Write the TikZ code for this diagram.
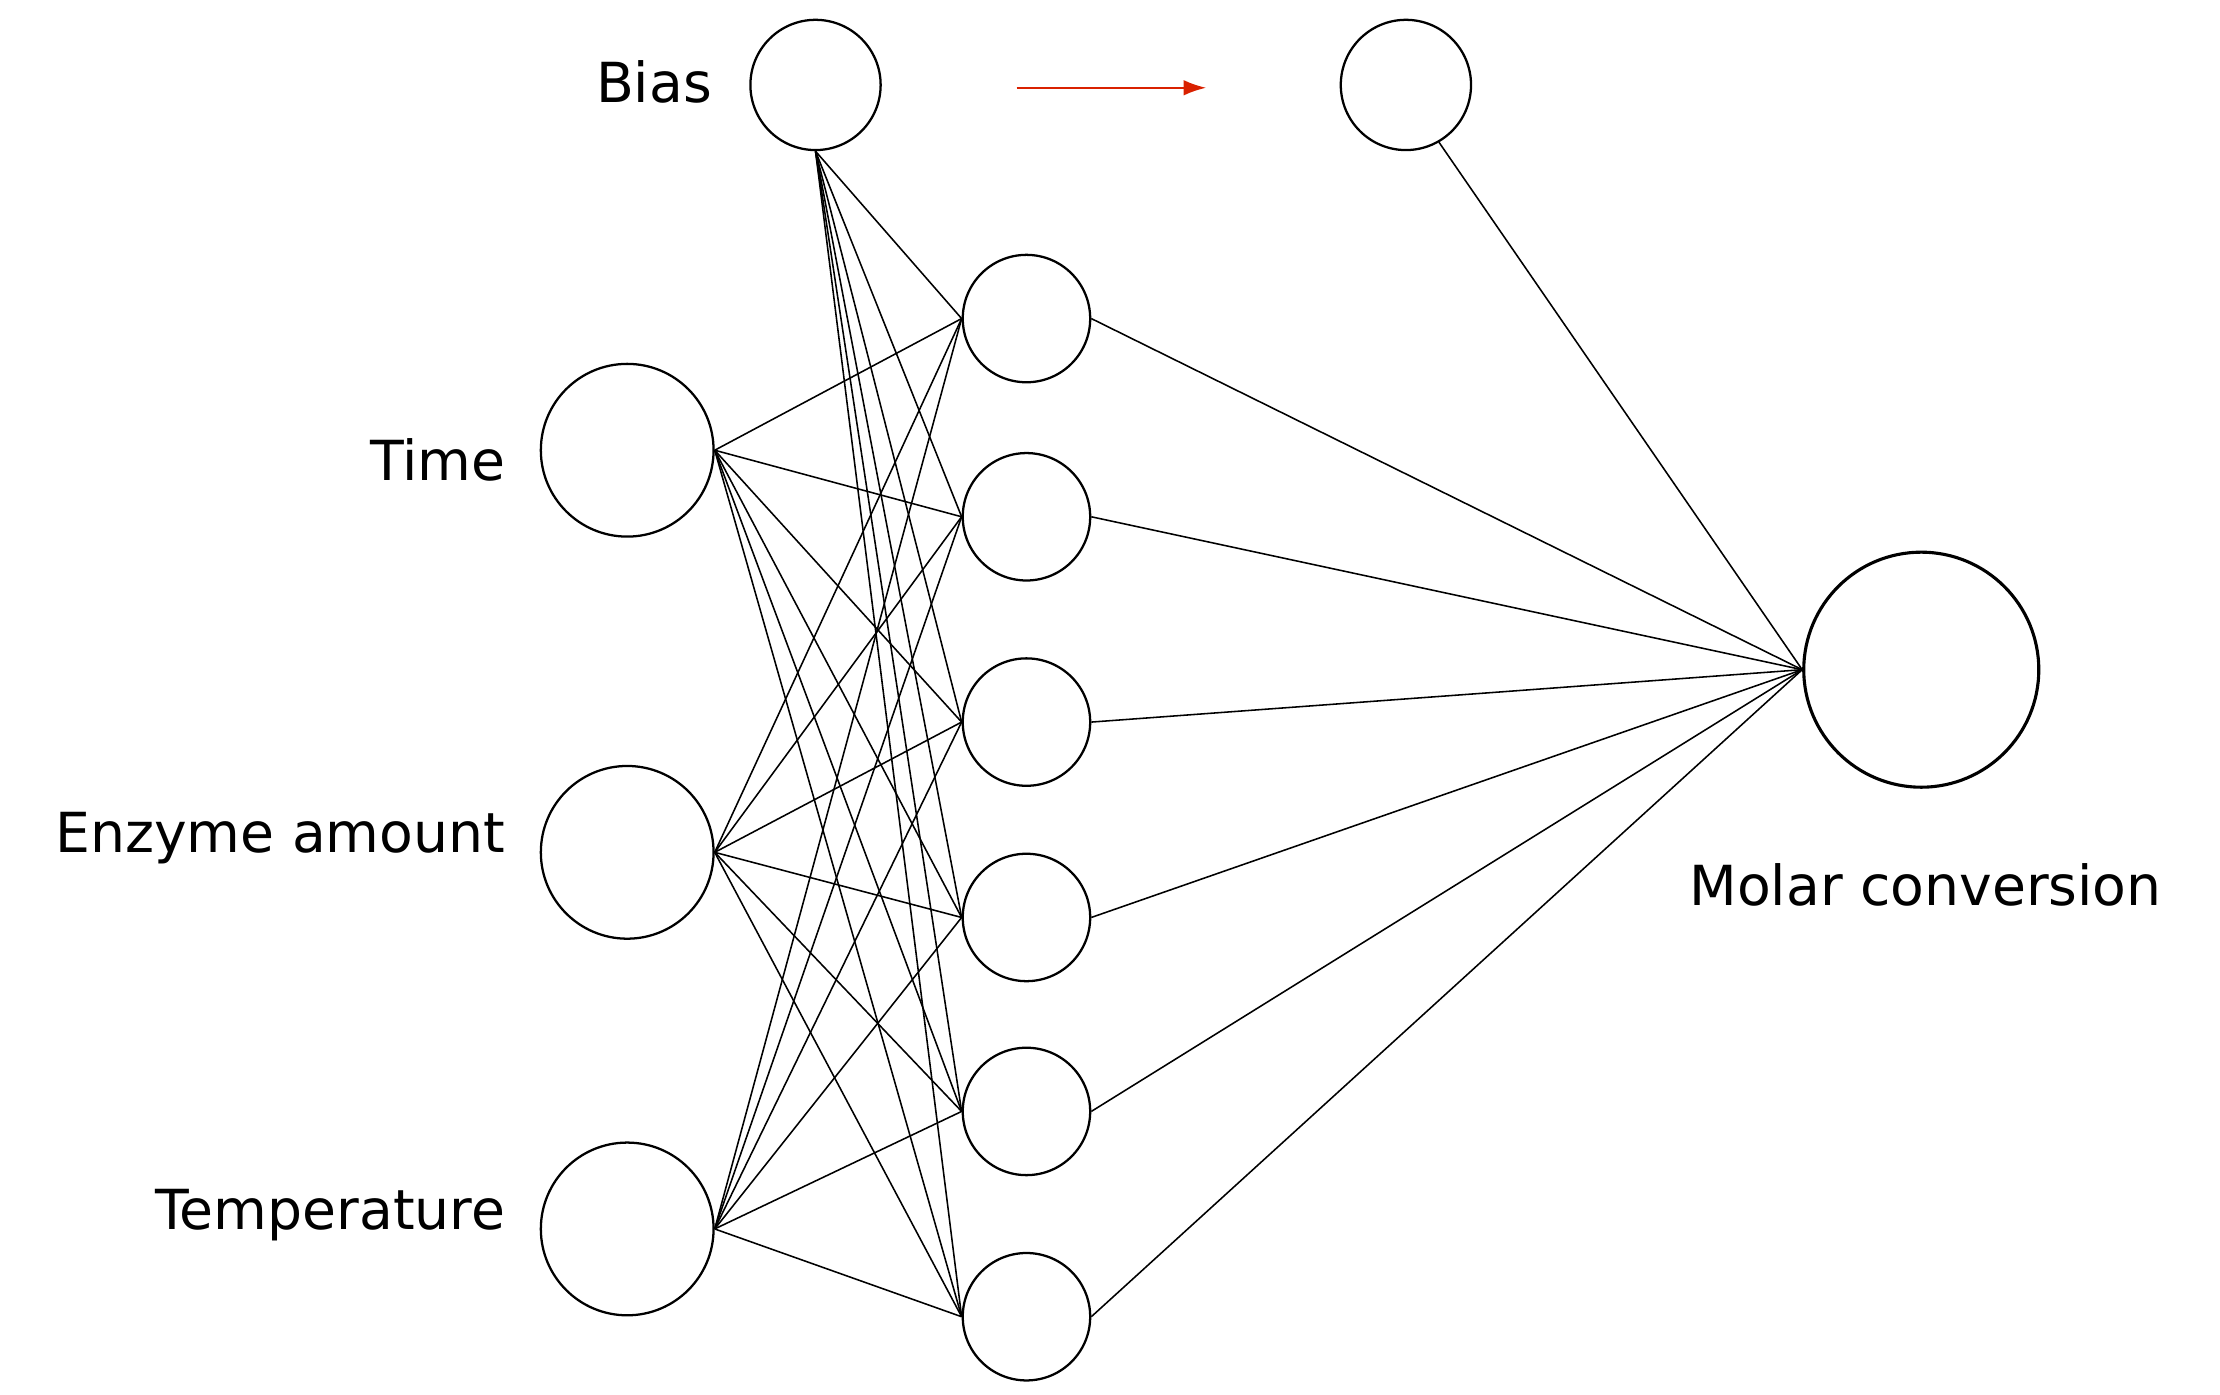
\documentclass[tikz,border=0pt]{standalone}
\usepackage{fontspec}
\usetikzlibrary{arrows.meta}
\setmainfont{DejaVu Sans}
\begin{document}
\begin{tikzpicture}[x=1pt,y=-1pt,
  neuron/.style={circle,draw,line width=1.6pt,inner sep=0pt},
  lbl/.style={font=\fontsize{39}{46}\selectfont,inner sep=0pt},
  link/.style={line width=1.1pt}]
\useasboundingbox (0,0) rectangle (1568,985);
\node[neuron,minimum size=92pt] (b1) at (576,60) {};
\node[neuron,minimum size=92pt] (b2) at (993,60) {};
\node[neuron,minimum size=122pt] (i1) at (443,318) {};
\node[neuron,minimum size=122pt] (i2) at (443,602) {};
\node[neuron,minimum size=122pt] (i3) at (443,868) {};
\foreach \n/\y in {1/225,2/365,3/510,4/648,5/785,6/930}
  \node[neuron,minimum size=90pt] (h\n) at (725,\y) {};
\node[neuron,minimum size=166pt,line width=2.2pt] (o) at (1357,473) {};
\node[lbl,anchor=east] (lb) at (503,58) {Bias};
\node[lbl,anchor=east] (lt) at (357,325) {Time};
\node[lbl,anchor=east] (le) at (357,592) {Enzyme amount};
\node[lbl,anchor=east] (lp) at (357,858) {Temperature};
\node[lbl] (lo) at (1360,625) {Molar conversion};
\coordinate (a1) at (718,62);
\coordinate (a2) at (852,62);
\draw[-{Latex[length=16pt,width=11pt]},color=red!70!orange!85!black,line width=1.6pt] (a1) -- (a2);
\foreach \h in {1,...,6}{
  \draw[link] (b1.south) -- (h\h.west);
  \foreach \i in {1,2,3} \draw[link] (i\i.east) -- (h\h.west);
  \draw[link] (h\h.east) -- (o.west);
}
\draw[link] (b2.-60) -- (o.west);
\end{tikzpicture}
\end{document}
